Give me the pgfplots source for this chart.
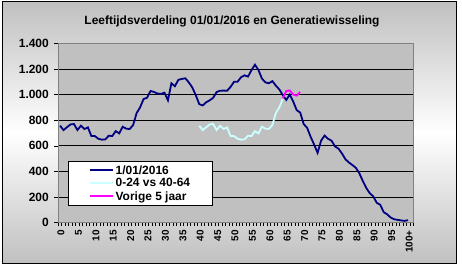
\documentclass[border=0pt]{standalone}
\usepackage{pgfplots}
\pgfplotsset{compat=1.18}
\usepackage{fontspec}
\setmainfont{Liberation Sans}
\definecolor{bgg}{RGB}{192,192,192}
\definecolor{plotg}{RGB}{192,192,192}
\definecolor{navy}{RGB}{0,0,128}
\definecolor{lcyan}{RGB}{204,255,255}
\definecolor{magen}{RGB}{255,0,255}
\pgfplotstableread{
age val
0 757
1 723
2 745
3 767
4 770
5 723
6 757
7 731
8 744
9 676
10 676
11 655
12 648
13 650
14 679
15 676
16 715
17 697
18 749
19 734
20 731
21 762
22 855
23 900
24 965
25 975
26 1028
27 1020
28 1008
29 1005
30 1015
31 955
32 1088
33 1065
34 1115
35 1122
36 1127
37 1095
38 1055
39 995
40 925
41 915
42 940
43 955
44 975
45 1020
46 1030
47 1031
48 1030
49 1060
50 1100
51 1100
52 1135
53 1150
54 1140
55 1190
56 1233
57 1192
58 1125
59 1095
60 1088
61 1105
62 1070
63 1040
64 995
65 958
66 1000
67 945
68 878
69 860
70 770
71 740
72 670
73 610
74 545
75 640
76 680
77 655
78 640
79 595
80 578
81 540
82 495
83 470
84 450
85 428
86 385
87 325
88 270
89 230
90 205
91 155
92 140
93 82
94 65
95 40
96 27
97 22
98 18
99 14
100 20
}\dark
\pgfplotstableread{
age val
40 757
41 723
42 745
43 767
44 770
45 723
46 757
47 731
48 744
49 676
50 676
51 655
52 648
53 650
54 679
55 676
56 715
57 697
58 749
59 734
60 731
61 762
62 855
63 900
64 965
}\cyan
\pgfplotstableread{
age val
64 970
65 1028
66 1032
67 1000
68 992
69 1020
}\vorige
\begin{document}
\begin{tikzpicture}[x=1bp,y=1bp]
\useasboundingbox (0,0) rectangle (462,269);
\shade[top color=bgg, bottom color=bgg, middle color=white] (2,6) rectangle (456,267);
\draw[black, line width=1bp] (2,6) rectangle (456,267);
\node[font=\bfseries\fontsize{12}{14}\selectfont] at (232,248) {Leeftijdsverdeling 01/01/2016 en Generatiewisseling};
\begin{axis}[
  at={(58.3bp,46.3bp)}, anchor=south west,
  width=355bp, height=179.4bp, scale only axis,
  xmin=-0.5, xmax=101.5, ymin=0, ymax=1400,
  axis background/.style={fill=plotg},
  axis line style={draw=gray, line width=0.8bp},
  ytick={0,200,...,1400},
  ymajorgrids, major grid style={black, line width=0.8bp},
  xtick={0,5,...,100},
  xticklabels={0,5,10,15,20,25,30,35,40,45,50,55,60,65,70,75,80,85,90,95,100+},
  minor xtick={-0.5,0.5,...,101.5},
  major x tick style={draw=none},
  tick style={black, line width=0.6bp},
  tick pos=left, tick align=outside,
  major tick length=4bp, minor tick length=3bp,
  /pgf/number format/.cd, 1000 sep={.}, assume math mode=true,
  /pgfplots/.cd,
  yticklabel style={font=\bfseries\fontsize{12}{14}\selectfont, xshift=-2bp},
  xticklabel style={font=\bfseries\fontsize{10}{12}\selectfont, rotate=90, anchor=east, yshift=-1bp},
  legend style={at={(0.028,0.344)}, anchor=north west, draw=black, line width=0.8bp, fill=white,
    font=\bfseries\fontsize{12}{13}\selectfont, inner xsep=20bp, inner ysep=2bp, row sep=-1bp},
  legend cell align=left,
  legend image code/.code={\draw[#1, line width=2bp] (0bp,0bp) -- (23bp,0bp);},
]
\addplot[navy, line width=1.8bp] table[x=age, y=val] {\dark};
\addlegendentry{1/01/2016}
\addplot[lcyan, line width=1.8bp] table[x=age, y=val] {\cyan};
\addlegendentry{0-24 vs 40-64}
\addplot[magen, line width=1.8bp] table[x=age, y=val] {\vorige};
\addlegendentry{Vorige 5 jaar}
\end{axis}
\end{tikzpicture}
\end{document}
